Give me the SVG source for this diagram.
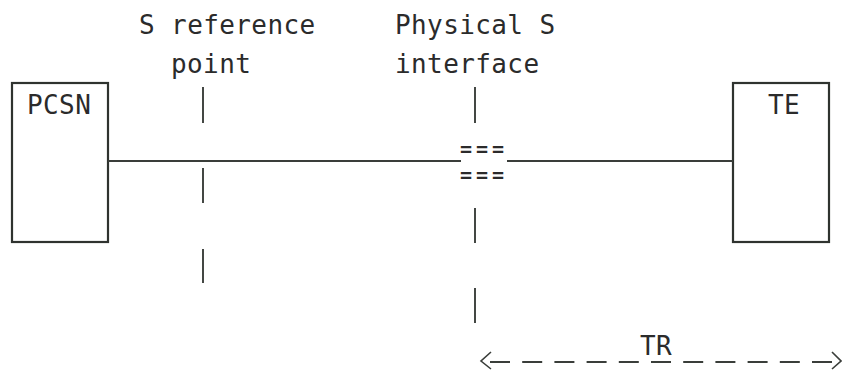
<svg xmlns="http://www.w3.org/2000/svg" width="842" height="372" viewBox="0 0 842 372">
  <style>
    .box { fill: none; stroke: #2f332f; stroke-width: 2.2; }
    .wire { fill: none; stroke: #3a3e3a; stroke-width: 2; }
    .mark { fill: none; stroke: #2f332f; stroke-width: 1.8; }
    .span { fill: none; stroke: #3a3e3a; stroke-width: 2; stroke-dasharray: 20 12.2; }
    .head { fill: none; stroke: #3a3e3a; stroke-width: 1.6; }
    .t { font-family: "DejaVu Sans Mono", "Liberation Mono", monospace; font-size: 26px; letter-spacing: 0.4px; fill: #2b2b2b; }
    .eq { font-family: "DejaVu Sans Mono", "Liberation Mono", monospace; font-size: 20px; font-weight: bold; letter-spacing: 3.9px; fill: #2b2b2b; }
  </style>
  <rect width="842" height="372" fill="#ffffff"/>

  <!-- column headings -->
  <g id="label-s-reference">
    <text class="t" x="139" y="34">S reference</text>
    <text class="t" x="171" y="73">point</text>
  </g>
  <g id="label-physical-s">
    <text class="t" x="395" y="34">Physical S</text>
    <text class="t" x="395" y="73">interface</text>
  </g>

  <!-- equipment blocks -->
  <g id="pcsn">
    <rect class="box" x="12" y="83" width="96" height="159"/>
    <text class="t" x="27" y="114">PCSN</text>
  </g>
  <g id="te">
    <rect class="box" x="733" y="83" width="96" height="159"/>
    <text class="t" x="768" y="114">TE</text>
  </g>

  <!-- connectors and reference markers -->
  <g id="connectors">
    <line class="wire" x1="108" y1="161" x2="461" y2="161"/>
    <line class="wire" x1="507" y1="161" x2="733" y2="161"/>
    <text class="eq" x="460" y="156">===</text>
    <text class="eq" x="460" y="182">===</text>

    <!-- S reference point marker -->
    <line class="mark" x1="203" y1="87" x2="203" y2="123"/>
    <line class="mark" x1="203" y1="168" x2="203" y2="203"/>
    <line class="mark" x1="203" y1="249" x2="203" y2="283"/>

    <!-- physical S interface marker -->
    <line class="mark" x1="475" y1="87" x2="475" y2="123"/>
    <line class="mark" x1="475" y1="208" x2="475" y2="243"/>
    <line class="mark" x1="475" y1="288" x2="475" y2="323"/>

    <!-- TR span -->
    <line class="span" x1="490" y1="362" x2="832" y2="362"/>
    <polyline class="head" points="491,352 481,361 491,369"/>
    <polyline class="head" points="832,352 841,361 832,369"/>
    <text class="t" x="640" y="355">TR</text>
  </g>
</svg>
